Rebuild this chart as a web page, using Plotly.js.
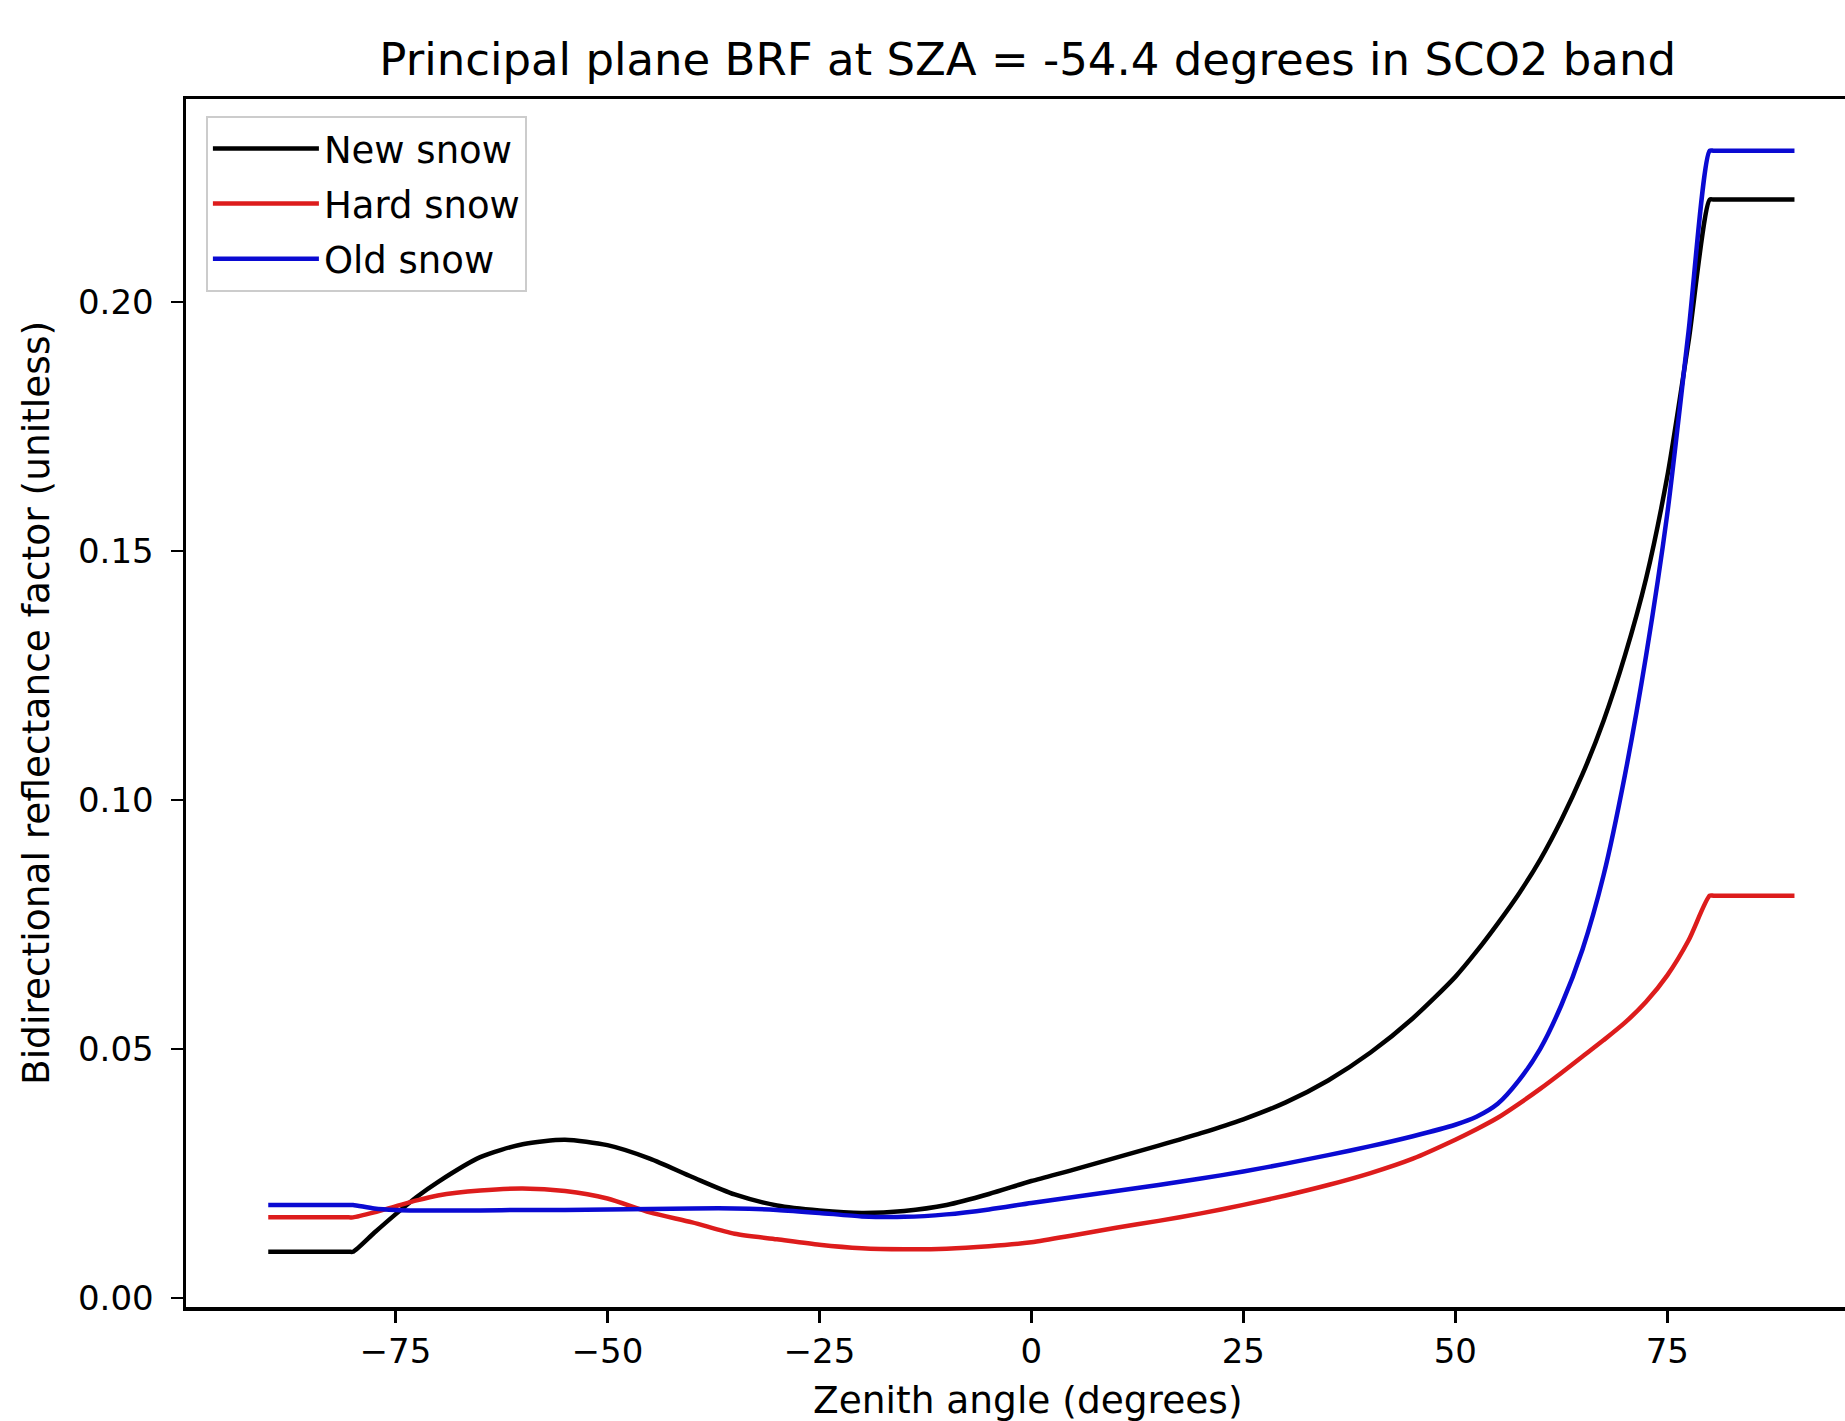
<!DOCTYPE html>
<html>
<head>
<meta charset="utf-8">
<script src="https://cdn.plot.ly/plotly-3.0.1.min.js"></script>
<style>
  html, body { margin: 0; padding: 0; background: #ffffff; }
  #chart { width: 1845px; height: 1421px; }
</style>
</head>
<body>
<div id="chart"></div>
<script>
// Zenith angles (degrees)
const zenithAngles = [-90, -80.5, -80, -77.5, -75, -72.5, -70, -65, -60, -55, -50, -45, -40, -35, -30, -25, -20, -15, -10, -5, 0, 5, 10, 15, 20, 25, 30, 35, 40, 45, 50, 52.5, 55, 57.5, 60, 62.5, 65, 67.5, 70, 72.5, 75, 77.5, 80, 80.5, 90];

// Bidirectional reflectance factor per snow type
const newSnow = [0.0093, 0.0093, 0.0093, 0.0131, 0.0168, 0.0203, 0.0233, 0.0283, 0.0309, 0.0318, 0.0307, 0.0280, 0.0243, 0.0208, 0.0186, 0.0176, 0.0171, 0.0175, 0.0187, 0.0209, 0.0235, 0.0258, 0.0282, 0.0306, 0.0331, 0.0359, 0.0393, 0.0437, 0.0493, 0.0562, 0.0645, 0.0696, 0.0752, 0.0812, 0.0880, 0.0960, 0.1052, 0.1160, 0.1290, 0.1445, 0.1650, 0.1920, 0.2206, 0.2206, 0.2206];

const hardSnow = [0.0162, 0.0162, 0.0162, 0.0172, 0.0184, 0.0196, 0.0206, 0.0216, 0.0220, 0.0215, 0.0200, 0.0172, 0.0152, 0.0129, 0.0118, 0.0107, 0.0100, 0.0098, 0.0099, 0.0104, 0.0112, 0.0126, 0.0141, 0.0155, 0.0170, 0.0187, 0.0206, 0.0227, 0.0251, 0.0280, 0.0318, 0.0339, 0.0362, 0.0390, 0.0420, 0.0452, 0.0485, 0.0518, 0.0553, 0.0595, 0.0648, 0.0718, 0.0808, 0.0808, 0.0808];

const oldSnow = [0.0187, 0.0187, 0.0187, 0.0180, 0.0177, 0.0176, 0.0176, 0.0176, 0.0177, 0.0177, 0.0178, 0.0179, 0.0180, 0.0180, 0.0177, 0.0171, 0.0164, 0.0163, 0.0168, 0.0178, 0.0191, 0.0203, 0.0215, 0.0227, 0.0240, 0.0254, 0.0270, 0.0287, 0.0305, 0.0325, 0.0348, 0.0364, 0.0390, 0.0437, 0.0500, 0.0588, 0.0700, 0.0850, 0.1050, 0.1290, 0.1575, 0.1940, 0.2304, 0.2304, 0.2304];

const seriesNames = ["New snow", "Hard snow", "Old snow"];
const seriesColors = ["#000000", "#dd1c1c", "#0a0ad2"];

const xTickValues = [-75, -50, -25, 0, 25, 50, 75];
const yTickValues = [0.00, 0.05, 0.10, 0.15, 0.20];

const titleText = "Principal plane BRF at SZA = -54.4 degrees in SCO2 band";
const xTitleText = "Zenith angle (degrees)";
const yTitleText = "Bidirectional reflectance factor (unitless)";

const FONT = "DejaVu Sans, Liberation Sans, sans-serif";

const seriesValues = [newSnow, hardSnow, oldSnow];
const traces = seriesValues.map((vals, i) => ({
  type: "scatter",
  mode: "lines",
  x: zenithAngles,
  y: vals,
  name: seriesNames[i],
  legendgroup: "g" + i,
  line: { color: seriesColors[i], width: 4.5, shape: "spline", smoothing: 0.7 },
  hoverinfo: "skip"
}));

const layout = {
  width: 1845,
  height: 1421,
  paper_bgcolor: "#ffffff",
  plot_bgcolor: "#ffffff",
  margin: { l: 186, r: 0, t: 99, b: 114, pad: 0 },
  font: { family: FONT, color: "#000000", size: 34 },
  title: {
    text: titleText,
    font: { family: FONT, size: 45, color: "#000000" },
    xref: "container",
    x: 0.557,
    xanchor: "center",
    yref: "container",
    y: 0.958,
    yanchor: "middle"
  },
  showlegend: true,
  legend: {
    x: 0.012,
    y: 0.986,
    xanchor: "left",
    yanchor: "top",
    bgcolor: "rgba(255,255,255,0.85)",
    bordercolor: "#cccccc",
    borderwidth: 2,
    font: { family: FONT, size: 37, color: "#000000" },
    itemwidth: 106,
    tracegroupgap: 4,
    traceorder: "grouped"
  },
  xaxis: {
    range: [-99.7, 95.96],
    tickmode: "array",
    tickvals: xTickValues,
    ticks: "outside",
    ticklen: 12,
    tickwidth: 2.5,
    tickcolor: "#000000",
    ticklabelstandoff: 0,
    tickfont: { family: FONT, size: 34, color: "#000000" },
    showgrid: false,
    zeroline: false,
    showline: true,
    linecolor: "#000000",
    linewidth: 3.5,
    mirror: true,
    automargin: false
  },
  yaxis: {
    range: [-0.0018, 0.2408],
    tickmode: "array",
    tickvals: yTickValues,
    tickformat: ".2f",
    ticks: "outside",
    ticklen: 12,
    tickwidth: 2.5,
    tickcolor: "#000000",
    ticklabelstandoff: 10,
    tickfont: { family: FONT, size: 34, color: "#000000" },
    showgrid: false,
    zeroline: false,
    showline: true,
    linecolor: "#000000",
    linewidth: 3.5,
    mirror: false,
    automargin: false,
    title: {
      text: yTitleText,
      font: { family: FONT, size: 37.5, color: "#000000" },
      standoff: 18
    }
  },
  annotations: [
    {
      text: xTitleText,
      xref: "paper",
      yref: "paper",
      x: 0.5075,
      y: -0.077,
      xanchor: "center",
      yanchor: "middle",
      showarrow: false,
      font: { family: FONT, size: 37.5, color: "#000000" }
    }
  ]
};

Plotly.newPlot("chart", traces, layout, { staticPlot: true, displayModeBar: false });
</script>
</body>
</html>
